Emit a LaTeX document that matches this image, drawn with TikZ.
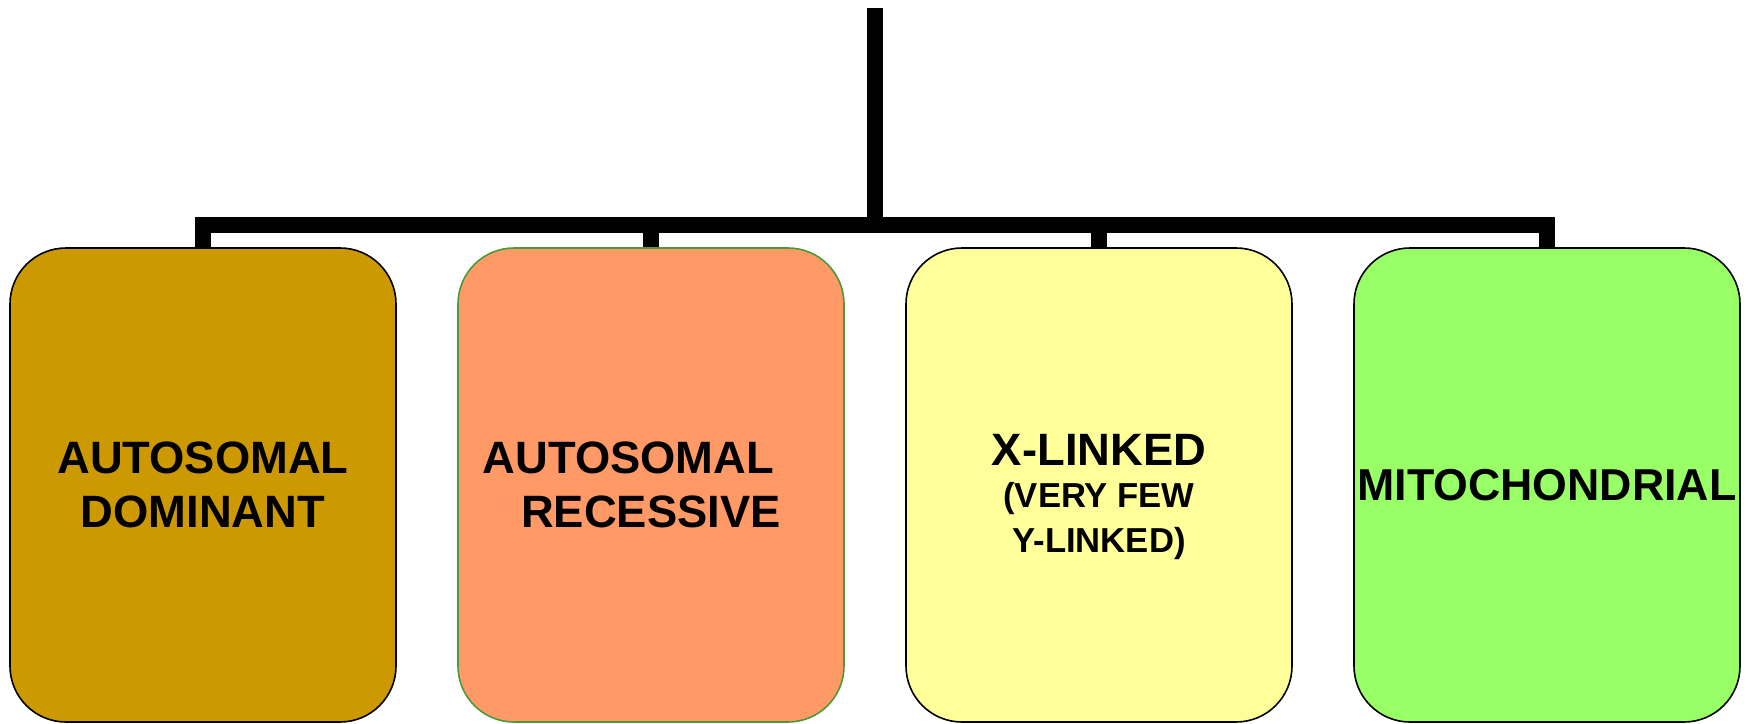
\documentclass[tikz,border=0pt]{standalone}
\usepackage{fontspec}
\setmainfont{Liberation Sans}
\usetikzlibrary{positioning}
\definecolor{gold}{HTML}{CC9900}
\definecolor{salmon}{HTML}{FF9966}
\definecolor{paleyellow}{HTML}{FFFF99}
\definecolor{lightgreen}{HTML}{99FF66}
\definecolor{edgegreen}{HTML}{4A9A3A}
\newcommand{\bigtext}{\fontsize{34}{40.5}\selectfont\bfseries}
\newcommand{\smalltext}{\fontsize{26}{33}\selectfont\bfseries}
\tikzstyle{branch} = [draw, line width=12pt]
\tikzstyle{kind} = [draw, line width=1.2pt, rectangle, rounded corners=42pt, minimum width=289.5pt, minimum height=355.5pt, inner sep=0pt, align=center, font=\bigtext]

\begin{document}
\begin{tikzpicture}[x=0.75pt, y=-0.75pt, node distance=45.3pt]
        \useasboundingbox (0,0) rectangle (1752,724);
        \coordinate (root) at (875,8);
        \coordinate (hub) at (875,225);
        \node[kind, fill=gold] at (203,485) (dom) {AUTOSOMAL\\DOMINANT};
        \node[kind, fill=salmon, draw=edgegreen, right=of dom] (rec) {AUTOSOMAL\hspace*{1em}\\RECESSIVE};
        \node[kind, fill=paleyellow, right=of rec] (xlink) {\rule{0pt}{41pt}X-LINKED\\[-9pt]\smalltext (VERY FEW\hspace*{0.45em}\\[-7pt]\smalltext Y-LINKED)};
        \node[kind, fill=lightgreen, right=of xlink, font=\fontsize{33.5}{40}\selectfont\bfseries] (mito) {MITOCHONDRIAL};
        \path[branch] (root) -- (hub);
        \path[branch] (hub) -| (dom.north);
        \path[branch] (hub) -| (rec.north);
        \path[branch] (hub) -| (xlink.north);
        \path[branch] (hub) -| (mito.north);
    \end{tikzpicture}
\end{document}
